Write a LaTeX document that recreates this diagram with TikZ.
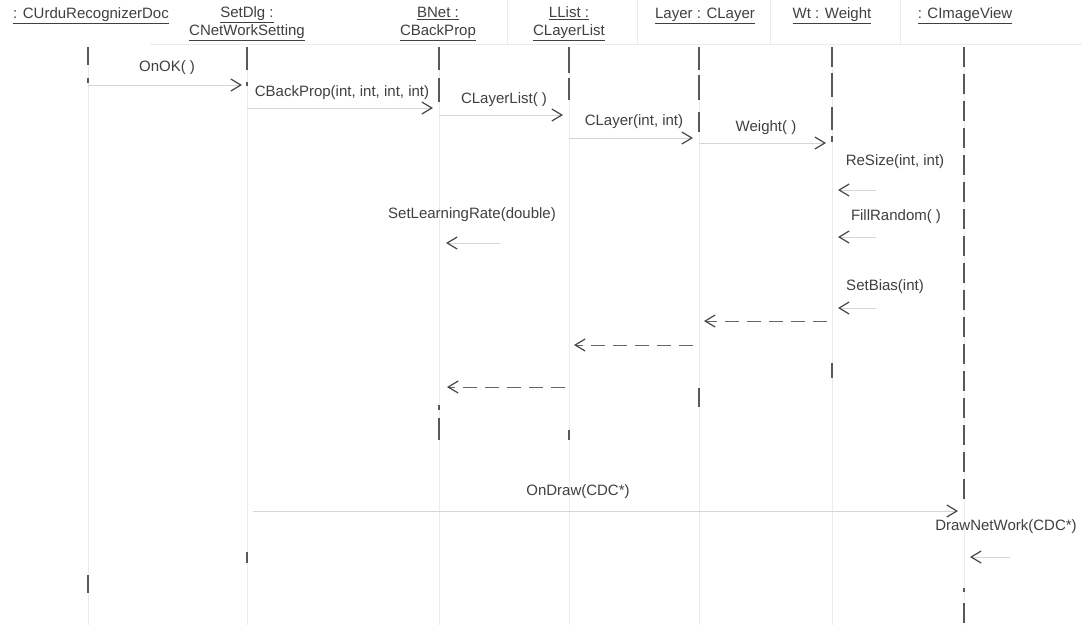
\documentclass[tikz,border=0pt]{standalone}
\usepackage{fontspec}
\setmainfont{Liberation Sans}
\usetikzlibrary{arrows.meta}
\begin{document}
\begin{tikzpicture}[x=1pt,y=-1pt,
  txt/.style={font=\fontsize{15}{18}\selectfont, text=black!75, inner sep=0pt},
  hdr/.style={txt, align=center},
  faint/.style={draw=black!8, line width=0.8pt},
  life/.style={draw=black!65, line width=1.1pt},
  tip/.style={-{Straight Barb[length=10pt,width=12pt,line width=1.2pt,color=black!72]}},
  msg/.style={tip, draw=black!16, line width=0.8pt},
  ret/.style={tip, draw=black!60, line width=1pt, dash pattern=on 14pt off 8pt}
]
\useasboundingbox[fill=white] (0,0) rectangle (1082,625);

% header frame lines
\draw[faint] (150,44) -- (1082,44);
\foreach \xx in {507,637,770,900} \draw[faint] (\xx,0) -- (\xx,44);

% object headers
\node[hdr] (hU) at (91,16) {\underline{: CUrduRecognizerDoc}};
\node[hdr] (hS) at (247,24) {\underline{SetDlg :}\\\underline{CNetWorkSetting}};
\node[hdr] (hB) at (438,24) {\underline{BNet :}\\\underline{CBackProp}};
\node[hdr] (hL) at (569,24) {\underline{LList :}\\\underline{CLayerList}};
\node[hdr] (hY) at (705,16) {\underline{Layer : CLayer}};
\node[hdr] (hW) at (832,16) {\underline{Wt : Weight}};
\node[hdr] (hI) at (965,16) {\underline{: CImageView}};

% lifelines: faint full length, darker visible segments
\foreach \xx in {88,247,439,569,699,832,964} \draw[faint] (\xx,47) -- (\xx,625);
\foreach \a/\b in {47/65,78/83,575/593} \draw[life] (88,\a) -- (88,\b);
\foreach \a/\b in {47/70,82/86,552/563} \draw[life] (247,\a) -- (247,\b);
\foreach \a/\b in {47/70,78/102,405/410,418/440} \draw[life] (439,\a) -- (439,\b);
\foreach \a/\b in {47/73,78/100,430/440} \draw[life] (569,\a) -- (569,\b);
\foreach \a/\b in {47/70,75/100,112/132,388/407} \draw[life] (699,\a) -- (699,\b);
\foreach \a/\b in {47/67,73/97,107/130,136/142,363/378} \draw[life] (832,\a) -- (832,\b);
\draw[life, dash pattern=on 20pt off 7pt] (964,47) -- (964,500);
\foreach \a/\b in {588/592,603/623} \draw[life] (964,\a) -- (964,\b);

% message end points
\coordinate (m1s) at (88,85);   \coordinate (m1t) at (242,85);
\coordinate (m2s) at (247,108); \coordinate (m2t) at (433,108);
\coordinate (m3s) at (439,115); \coordinate (m3t) at (563,115);
\coordinate (m4s) at (569,138); \coordinate (m4t) at (693,138);
\coordinate (m5s) at (699,143); \coordinate (m5t) at (826,143);
\coordinate (m6s) at (876,190); \coordinate (m6t) at (838,190);
\coordinate (m7s) at (876,237); \coordinate (m7t) at (838,237);
\coordinate (m8s) at (876,308); \coordinate (m8t) at (838,308);
\coordinate (m9s) at (500,243); \coordinate (m9t) at (446,243);
\coordinate (r1s) at (827,321); \coordinate (r1t) at (704,321);
\coordinate (r2s) at (693,345); \coordinate (r2t) at (574,345);
\coordinate (r3s) at (565,387); \coordinate (r3t) at (447,387);
\coordinate (m10s) at (253,511); \coordinate (m10t) at (958,511);
\coordinate (m11s) at (1010,557); \coordinate (m11t) at (970,557);

% calls
\draw[msg] (m1s) -- (m1t);
\draw[msg] (m2s) -- (m2t);
\draw[msg] (m3s) -- (m3t);
\draw[msg] (m4s) -- (m4t);
\draw[msg] (m5s) -- (m5t);
\draw[msg] (m6s) -- (m6t);
\draw[msg] (m7s) -- (m7t);
\draw[msg] (m8s) -- (m8t);
\draw[msg] (m9s) -- (m9t);
\draw[msg] (m10s) -- (m10t);
\draw[msg] (m11s) -- (m11t);

% returns
\draw[ret] (r1s) -- (r1t);
\draw[ret] (r2s) -- (r2t);
\draw[ret] (r3s) -- (r3t);

% message labels
\node[txt] (l1) at (167,68) {OnOK( )};
\node[txt] (l2) at (342,93) {CBackProp(int, int, int, int)};
\node[txt] (l3) at (504,100) {CLayerList( )};
\node[txt] (l4) at (634,122) {CLayer(int, int)};
\node[txt] (l5) at (766,128) {Weight( )};
\node[txt] (l6) at (895,162) {ReSize(int, int)};
\node[txt] (l7) at (896,217) {FillRandom( )};
\node[txt] (l8) at (885,287) {SetBias(int)};
\node[txt] (l9) at (472,215) {SetLearningRate(double)};
\node[txt] (l10) at (578,492) {OnDraw(CDC*)};
\node[txt] (l11) at (1006,527) {DrawNetWork(CDC*)};
\end{tikzpicture}
\end{document}
